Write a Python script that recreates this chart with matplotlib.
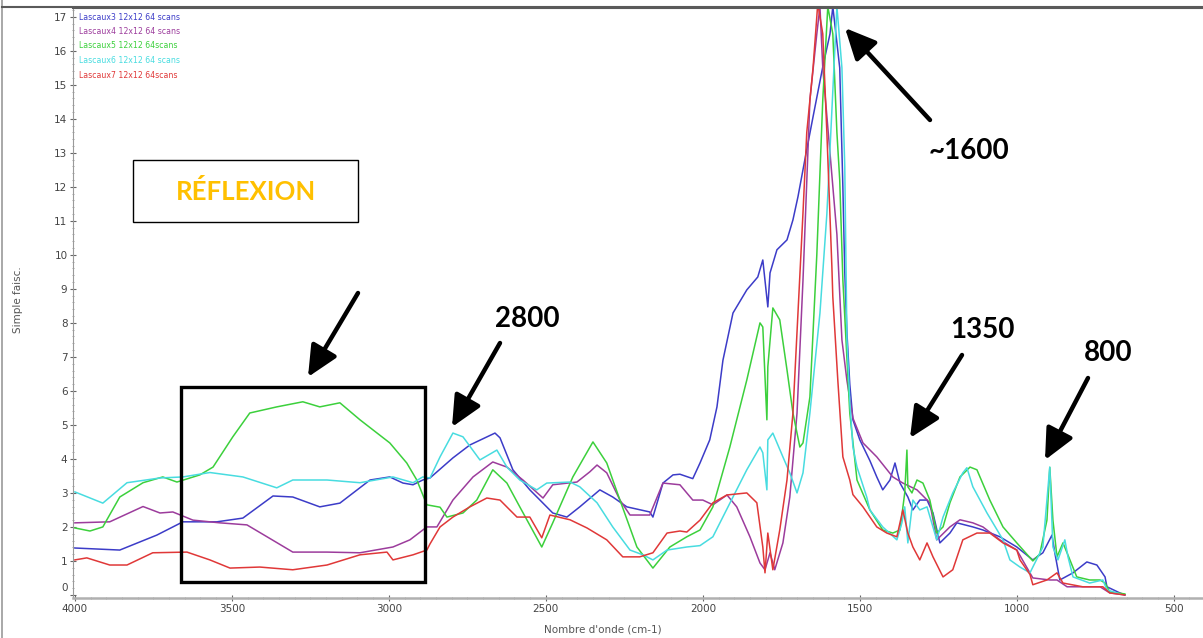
import matplotlib
matplotlib.use("Agg")
import matplotlib.pyplot as plt
import matplotlib.transforms as mtransforms
from matplotlib.patches import Rectangle, FancyArrowPatch
from matplotlib.lines import Line2D
from matplotlib.ticker import MultipleLocator

# ---- spectra: (wavenumber cm-1, single-beam intensity) ----
lascaux3 = [(4000, 1.38), (3857, 1.32), (3739, 1.76), (3656, 2.15), (3548, 2.15), (3465, 2.26),
            (3369, 2.91), (3306, 2.88), (3220, 2.59), (3156, 2.70), (3060, 3.38), (2997, 3.47),
            (2955, 3.29), (2923, 3.24), (2892, 3.38), (2869, 3.44), (2796, 4.03), (2742, 4.41),
            (2662, 4.76), (2646, 4.62), (2605, 3.68), (2551, 3.09), (2478, 2.41), (2433, 2.29),
            (2392, 2.59), (2328, 3.09), (2287, 2.88), (2242, 2.59), (2169, 2.44), (2159, 2.29),
            (2127, 3.29), (2095, 3.53), (2073, 3.55), (2032, 3.42), (2009, 3.88), (1978, 4.56),
            (1955, 5.53), (1936, 6.90), (1904, 8.29), (1860, 8.97), (1825, 9.35), (1809, 9.85),
            (1793, 8.47), (1786, 9.47), (1764, 10.15), (1732, 10.44), (1713, 11.03), (1697, 11.71),
            (1669, 13.10), (1649, 14.06), (1618, 15.53), (1595, 16.50), (1586, 17.30), (1564, 15.50),
            (1554, 12.00), (1548, 9.50), (1541, 7.70), (1532, 6.20), (1522, 5.15), (1500, 4.56),
            (1468, 3.95), (1446, 3.47), (1427, 3.09), (1404, 3.38), (1388, 3.88), (1372, 3.29),
            (1347, 2.88), (1331, 2.50), (1309, 2.79), (1286, 2.79), (1267, 2.41), (1245, 1.53),
            (1213, 1.82), (1191, 2.12), (1140, 2.00), (1108, 1.91), (1054, 1.71), (1000, 1.41),
            (949, 1.03), (917, 1.24), (888, 1.76), (879, 1.24), (863, 0.44), (821, 0.65),
            (777, 0.97), (745, 0.88), (719, 0.53), (713, 0.24), (672, 0.06), (656, 0.00)]

lascaux4 = [(4000, 2.12), (3889, 2.15), (3783, 2.60), (3729, 2.41), (3688, 2.44), (3624, 2.20),
            (3538, 2.12), (3452, 2.06), (3388, 1.71), (3306, 1.26), (3197, 1.26), (3092, 1.24),
            (2987, 1.41), (2933, 1.62), (2879, 2.00), (2847, 2.00), (2796, 2.79), (2732, 3.47),
            (2669, 3.91), (2624, 3.76), (2573, 3.38), (2509, 2.85), (2478, 3.24), (2401, 3.32),
            (2360, 3.62), (2337, 3.82), (2306, 3.59), (2264, 2.79), (2232, 2.35), (2169, 2.35),
            (2127, 3.29), (2073, 3.24), (2032, 2.79), (2000, 2.79), (1968, 2.65), (1923, 2.94),
            (1892, 2.59), (1850, 1.71), (1818, 0.94), (1802, 0.74), (1786, 1.24), (1771, 0.74),
            (1745, 1.53), (1723, 2.88), (1700, 5.35), (1681, 9.26), (1659, 14.56), (1637, 16.50),
            (1627, 17.30), (1618, 15.50), (1573, 10.60), (1557, 7.50), (1541, 6.30), (1522, 5.20),
            (1490, 4.47), (1446, 4.06), (1395, 3.47), (1363, 3.29), (1318, 3.09), (1277, 2.71),
            (1255, 1.62), (1213, 2.00), (1181, 2.21), (1140, 2.12), (1108, 2.00), (1054, 1.62),
            (1000, 1.32), (949, 0.50), (895, 0.44), (872, 0.44), (840, 0.24), (735, 0.24),
            (704, 0.06), (656, 0.00)]

lascaux5 = [(4000, 1.97), (3952, 1.88), (3911, 2.00), (3857, 2.88), (3783, 3.30), (3720, 3.47),
            (3675, 3.32), (3602, 3.53), (3560, 3.76), (3497, 4.65), (3443, 5.35), (3357, 5.53),
            (3274, 5.68), (3220, 5.53), (3156, 5.65), (3092, 5.15), (2997, 4.47), (2943, 3.88),
            (2911, 3.38), (2879, 2.65), (2837, 2.58), (2815, 2.29), (2764, 2.41), (2720, 2.79),
            (2669, 3.68), (2624, 3.29), (2583, 2.59), (2513, 1.41), (2478, 2.12), (2414, 3.47),
            (2350, 4.50), (2306, 3.88), (2264, 2.79), (2210, 1.41), (2159, 0.79), (2105, 1.41),
            (2051, 1.71), (2009, 1.91), (1968, 2.59), (1914, 4.35), (1860, 6.32), (1818, 8.00),
            (1809, 7.88), (1796, 5.15), (1793, 6.71), (1777, 8.44), (1755, 8.09), (1732, 6.62),
            (1713, 5.35), (1691, 4.35), (1681, 4.47), (1659, 5.82), (1637, 10.00), (1618, 14.56),
            (1602, 17.30), (1586, 16.50), (1573, 13.60), (1564, 12.20), (1554, 9.26), (1532, 5.35),
            (1509, 3.38), (1468, 2.50), (1427, 1.91), (1395, 1.82), (1372, 1.91), (1357, 3.00),
            (1350, 4.26), (1347, 3.18), (1334, 3.00), (1318, 3.38), (1299, 3.29), (1277, 2.79),
            (1255, 1.82), (1235, 2.00), (1213, 2.71), (1181, 3.47), (1149, 3.76), (1127, 3.68),
            (1086, 2.79), (1044, 2.00), (1000, 1.53), (949, 1.00), (927, 1.20), (904, 2.20),
            (895, 3.75), (885, 2.20), (872, 1.12), (853, 1.53), (840, 1.24), (809, 0.53),
            (768, 0.44), (735, 0.44), (719, 0.35), (704, 0.09), (656, 0.03)]

lascaux6 = [(4000, 3.03), (3911, 2.70), (3834, 3.30), (3729, 3.44), (3656, 3.47), (3570, 3.60),
            (3465, 3.47), (3357, 3.15), (3306, 3.38), (3197, 3.38), (3092, 3.30), (2987, 3.47),
            (2923, 3.30), (2892, 3.47), (2869, 3.44), (2837, 4.06), (2796, 4.76), (2764, 4.65),
            (2710, 3.97), (2656, 4.26), (2624, 3.76), (2583, 3.38), (2529, 3.09), (2497, 3.29),
            (2423, 3.32), (2392, 3.18), (2337, 2.71), (2287, 2.00), (2232, 1.32), (2191, 1.18),
            (2159, 1.03), (2114, 1.32), (2051, 1.41), (2009, 1.45), (1968, 1.71), (1904, 2.88),
            (1860, 3.68), (1818, 4.35), (1809, 4.18), (1796, 3.09), (1793, 4.56), (1777, 4.76),
            (1745, 4.06), (1723, 3.59), (1700, 3.00), (1681, 3.59), (1659, 5.35), (1627, 8.29),
            (1605, 11.20), (1573, 17.30), (1557, 15.50), (1548, 12.60), (1541, 7.50), (1532, 5.70),
            (1522, 4.35), (1509, 3.76), (1478, 2.88), (1468, 2.50), (1427, 2.00), (1382, 1.62),
            (1366, 2.12), (1357, 2.59), (1347, 1.53), (1331, 2.79), (1309, 2.50), (1286, 2.59),
            (1255, 1.62), (1235, 2.29), (1204, 3.00), (1172, 3.59), (1159, 3.74), (1140, 3.18),
            (1095, 2.41), (1044, 1.62), (1022, 1.03), (990, 0.82), (958, 0.65), (949, 0.82),
            (917, 1.41), (895, 3.76), (885, 1.41), (869, 1.03), (847, 1.62), (837, 1.12),
            (821, 0.53), (768, 0.35), (726, 0.44), (713, 0.15), (672, 0.03)]

lascaux7 = [(4000, 1.03), (3962, 1.09), (3889, 0.88), (3834, 0.88), (3752, 1.24), (3643, 1.26),
            (3570, 1.03), (3506, 0.79), (3411, 0.82), (3306, 0.74), (3197, 0.88), (3092, 1.18),
            (3006, 1.26), (2987, 1.03), (2923, 1.18), (2879, 1.32), (2869, 1.50), (2837, 2.00),
            (2796, 2.29), (2742, 2.59), (2688, 2.85), (2646, 2.79), (2592, 2.29), (2551, 2.29),
            (2513, 1.68), (2487, 2.35), (2423, 2.21), (2369, 1.97), (2306, 1.62), (2255, 1.12),
            (2201, 1.12), (2159, 1.24), (2114, 1.82), (2073, 1.88), (2051, 1.85), (2009, 2.20),
            (1968, 2.71), (1923, 2.94), (1860, 3.00), (1828, 2.71), (1809, 1.41), (1802, 0.65),
            (1793, 1.82), (1777, 0.74), (1755, 1.91), (1732, 3.38), (1713, 5.35), (1697, 8.29),
            (1681, 11.24), (1669, 13.60), (1649, 15.50), (1637, 17.00), (1634, 17.40), (1618, 16.50),
            (1605, 13.60), (1589, 9.65), (1586, 8.76), (1570, 6.30), (1554, 4.06), (1532, 3.38),
            (1522, 2.95), (1490, 2.59), (1446, 2.00), (1414, 1.82), (1382, 1.71), (1363, 2.50),
            (1347, 1.82), (1331, 1.41), (1309, 1.03), (1286, 1.53), (1267, 1.12), (1235, 0.53),
            (1204, 0.74), (1172, 1.62), (1127, 1.82), (1086, 1.82), (1044, 1.53), (1000, 1.32),
            (990, 1.03), (958, 0.60), (949, 0.30), (904, 0.44), (872, 0.65), (853, 0.35),
            (790, 0.24), (726, 0.24), (704, 0.06), (656, 0.00)]

series_labels = ["Lascaux3 12x12 64 scans", "Lascaux4 12x12 64 scans", "Lascaux5 12x12 64scans",
                 "Lascaux6 12x12 64 scans", "Lascaux7 12x12 64scans"]
series_colors = ["#3c3cc8", "#9c3c9c", "#3cd03c", "#48dce0", "#e03838"]
series_data = [lascaux3, lascaux4, lascaux5, lascaux6, lascaux7]

x_ticks = [4000, 3500, 3000, 2500, 2000, 1500, 1000, 500]
y_ticks = list(range(0, 18))

W, H = 1203, 638
fig = plt.figure(figsize=(W / 100, H / 100), dpi=100)
fig.patch.set_facecolor("white")


def fx(px):
    return px / W


def fy(py):
    return 1 - py / H


ax = fig.add_axes([fx(73), fy(598), (W - 73) / W, (598 - 8) / H])
ax.set_facecolor("white")

for pts, color in zip(series_data, series_colors):
    wn, val = zip(*pts)
    ax.plot(wn, val, color=color, lw=1.1, solid_joinstyle="round")

ax.set_xlim(4006, 407)
ax.set_ylim(-0.09, 17.26)

ax.set_xticks(x_ticks)
ax.set_xticklabels([str(t) for t in x_ticks])
ax.set_yticks(y_ticks)
ax.set_yticklabels([str(t) for t in y_ticks])
ax.xaxis.set_minor_locator(MultipleLocator(50))
ax.yaxis.set_minor_locator(MultipleLocator(0.2))
ax.tick_params(axis="both", which="major", labelsize=7.5, labelcolor="#444444",
               color="#666666", length=4, width=0.8, direction="inout")
ax.tick_params(axis="both", which="minor", color="#999999", length=2, width=0.6,
               direction="inout")
ax.tick_params(axis="x", pad=2)
ax.tick_params(axis="y", pad=2)

ax.spines["right"].set_visible(False)
ax.spines["left"].set_color("#9a9a9a")
ax.spines["left"].set_linewidth(0.8)
ax.spines["bottom"].set_color("#b0b0b0")
ax.spines["bottom"].set_linewidth(1.8)
ax.spines["top"].set_color("#5a5a5a")
ax.spines["top"].set_linewidth(1.5)

# lift the "0" label clear of the x-axis labels
zero_lbl = ax.yaxis.get_major_ticks()[0].label1
zero_lbl.set_transform(zero_lbl.get_transform() +
                       mtransforms.ScaledTranslation(0, 8 / 100, fig.dpi_scale_trans))

# window edge
fig.add_artist(Line2D([fx(2), fx(2)], [0, 1], transform=fig.transFigure,
                      color="#9a9a9a", lw=1.2))
fig.add_artist(Line2D([fx(2), 1], [fy(7), fy(7)], transform=fig.transFigure,
                      color="#5a5a5a", lw=1.5))

# axis titles
fig.text(fx(18), fy(300), "Simple faisc.", rotation=90, fontsize=7.5, color="#555555",
         ha="center", va="center")
fig.text(fx(603), fy(630), "Nombre d'onde (cm-1)", fontsize=7.5, color="#555555",
         ha="center", va="center")

# series names, top-left
for i, (lbl, color) in enumerate(zip(series_labels, series_colors)):
    fig.text(fx(79), fy(17 + 14.5 * i), lbl, fontsize=5.6, color=color, ha="left", va="center")

# highlighted region
fig.add_artist(Rectangle((fx(181), fy(582)), (425 - 181) / W, (582 - 387) / H,
                         transform=fig.transFigure, fill=False, ec="black", lw=2.4))

# label box
fig.add_artist(Rectangle((fx(133), fy(222)), (358 - 133) / W, (222 - 160) / H,
                         transform=fig.transFigure, fill=False, ec="black", lw=1.0))
fig.text(fx(246), fy(191), "RÉFLEXION", fontsize=18.5, fontweight="bold", family="Lato",
         color="#ffc000", ha="center", va="center")

# band labels and arrows
band_font = dict(fontsize=20, fontweight="bold", family="Lato", color="black",
                 ha="center", va="center")
fig.text(fx(527), fy(319), "2800", **band_font)
fig.text(fx(969), fy(151), "~1600", **band_font)
fig.text(fx(982), fy(330), "1350", **band_font)
fig.text(fx(1108), fy(353), "800", **band_font)

arrows = [((358, 293), (308, 377)),
          ((500, 343), (452, 427)),
          ((930, 120), (845, 28)),
          ((962, 355), (910, 438)),
          ((1088, 378), (1045, 460))]
for (x0, y0), (x1, y1) in arrows:
    fig.add_artist(FancyArrowPatch((fx(x0), fy(y0)), (fx(x1), fy(y1)),
                                   transform=fig.transFigure,
                                   arrowstyle="-|>,head_length=0.85,head_width=0.4",
                                   mutation_scale=22, lw=3.2, color="black",
                                   shrinkA=0, shrinkB=0))

fig.savefig("out.png", dpi=100, facecolor="white")
